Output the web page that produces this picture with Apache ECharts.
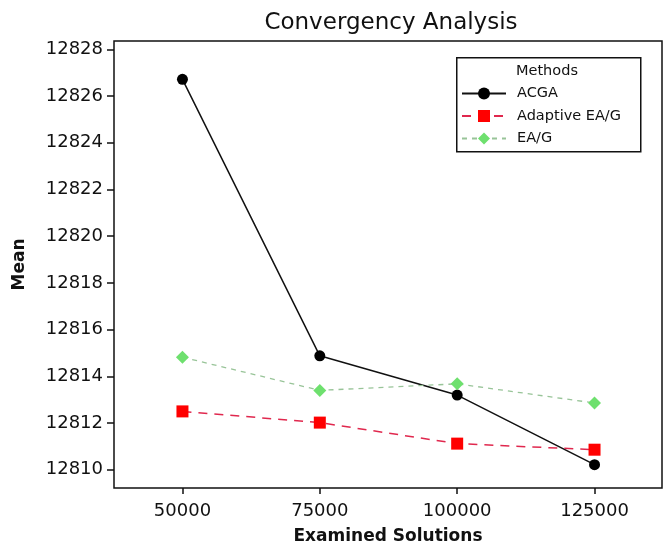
<!DOCTYPE html>
<html>
<head>
<meta charset="utf-8">
<script src="https://cdn.jsdelivr.net/npm/echarts@6/dist/echarts.min.js"></script>
<style>
  html, body { margin: 0; padding: 0; background: #fff; }
  #chart { width: 664px; height: 547px; }
</style>
</head>
<body>
<div id="chart"></div>
<script>
var examinedSolutions = [50000, 75000, 100000, 125000];
var acga = [12826.72, 12814.88, 12813.2, 12810.22];
var adaptiveEAG = [12812.5, 12812.02, 12811.12, 12810.86];
var eag = [12814.82, 12813.4, 12813.68, 12812.86];
var yTicks = [12810, 12812, 12814, 12816, 12818, 12820, 12822, 12824, 12826, 12828];
var methodNames = ['ACGA', 'Adaptive EA/G', 'EA/G'];

var FONT = 'DejaVu Sans';

function pairs(values) {
  return examinedSolutions.map(function (x, i) { return [x, values[i]]; });
}

var chart = echarts.init(document.getElementById('chart'), null, { renderer: 'canvas' });

var option = {
  animation: false,
  backgroundColor: '#fff',
  title: {
    text: 'Convergency Analysis',
    left: 386,
    textAlign: 'center',
    top: 7,
    textStyle: { fontFamily: FONT, fontSize: 23, fontWeight: 'normal', color: '#111' }
  },
  grid: {
    left: 114, right: 2, top: 41, bottom: 59,
    outerBoundsMode: 'none',
    containLabel: false,
    show: true, borderColor: '#111', borderWidth: 1.5, backgroundColor: 'transparent'
  },
  graphic: [
    {
      type: 'rect', left: 456, top: 57, z: 100,
      shape: { width: 184, height: 94 },
      style: { fill: '#fff', stroke: '#111', lineWidth: 1.5 }
    },
    {
      type: 'text', left: 516, top: 64, z: 101,
      style: { text: 'Methods', fontFamily: FONT, fontSize: 14.5, fill: '#111' }
    }
  ],
  legend: {
    data: methodNames,
    orient: 'vertical',
    left: 461,
    top: 86,
    padding: 0,
    itemWidth: 44,
    itemHeight: 15,
    itemGap: 7.5,
    z: 102,
    textStyle: { fontFamily: FONT, fontSize: 14.5, color: '#111', padding: [0, 0, 0, 6] }
  },
  xAxis: {
    type: 'value',
    min: 37540,
    max: 137280,
    name: 'Examined Solutions',
    nameLocation: 'middle',
    nameGap: 40,
    nameMoveOverlap: false,
    nameTextStyle: { fontFamily: FONT, fontSize: 17, fontWeight: 'bold', color: '#111' },
    axisLine: { show: false },
    axisTick: { show: true, length: 6, lineStyle: { color: '#111', width: 1.5 }, customValues: examinedSolutions },
    axisLabel: {
      customValues: examinedSolutions,
      margin: 14,
      fontFamily: FONT, fontSize: 18, color: '#111',
      formatter: function (v) { return String(v); }
    },
    splitLine: { show: false }
  },
  yAxis: {
    type: 'value',
    min: 12809.22,
    max: 12828.36,
    name: 'Mean',
    nameLocation: 'middle',
    nameGap: 86,
    nameMoveOverlap: false,
    nameTextStyle: { fontFamily: FONT, fontSize: 17, fontWeight: 'bold', color: '#111' },
    axisLine: { show: false },
    axisTick: { show: true, length: 7, lineStyle: { color: '#111', width: 1.5 }, customValues: yTicks },
    axisLabel: {
      customValues: yTicks,
      margin: 11,
      fontFamily: FONT, fontSize: 18, color: '#111',
      formatter: function (v) { return String(v); }
    },
    splitLine: { show: false }
  },
  series: [
    {
      name: methodNames[0],
      type: 'line',
      data: pairs(acga),
      symbol: 'circle',
      symbolSize: 11,
      itemStyle: { color: '#000' },
      lineStyle: { color: '#111', width: 1.5, type: 'solid' }
    },
    {
      name: methodNames[1],
      type: 'line',
      data: pairs(adaptiveEAG),
      symbol: 'rect',
      symbolSize: 12,
      itemStyle: { color: '#ff0000' },
      lineStyle: { color: '#e0284e', width: 1.5, type: [9, 7] }
    },
    {
      name: methodNames[2],
      type: 'line',
      data: pairs(eag),
      symbol: 'diamond',
      symbolSize: 13,
      itemStyle: { color: '#6ee06e' },
      lineStyle: { color: '#98c498', width: 1.3, type: [5, 5] }
    }
  ]
};

chart.setOption(option);
window.addEventListener('resize', chart.resize);
</script>
</body>
</html>
